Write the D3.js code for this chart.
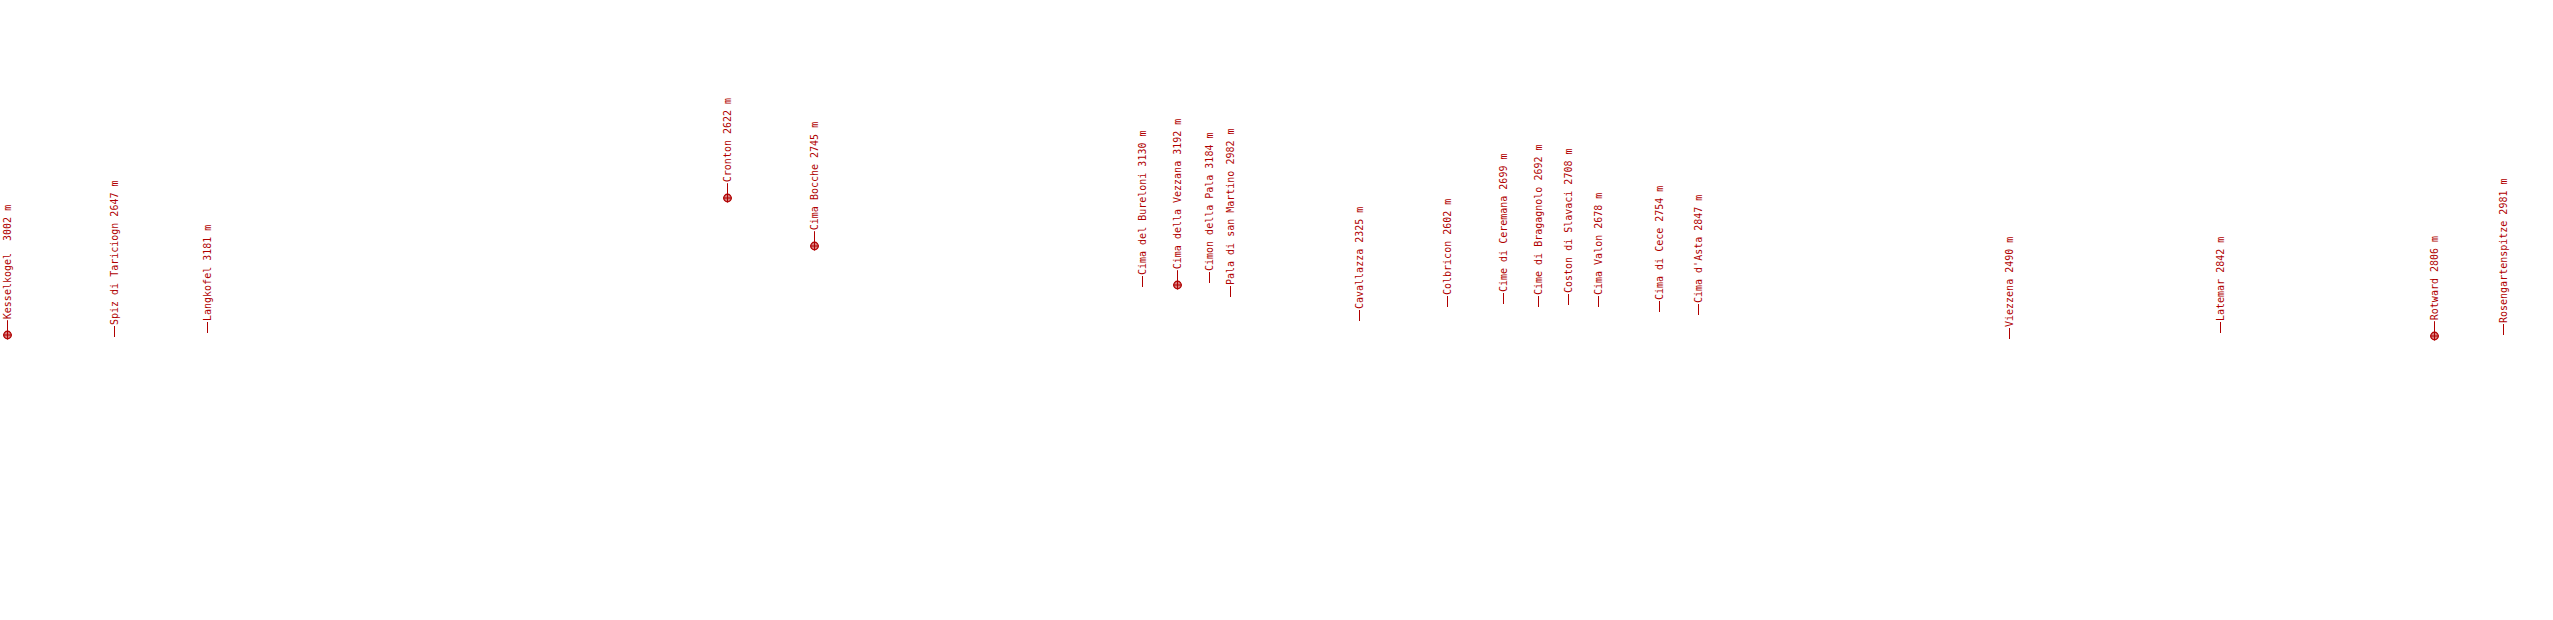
<!DOCTYPE html>
<html>
<head>
<meta charset="utf-8">
<script src="https://cdn.jsdelivr.net/npm/d3@7"></script>
<style>
  html, body { margin: 0; padding: 0; background: #fff; }
  svg { display: block; }
  text { text-rendering: optimizeSpeed; white-space: pre; }
</style>
</head>
<body>
<svg id="chart" width="2553" height="620"></svg>
<script>
// Peaks seen on the panorama: azimuth (deg) and apparent elevation angle (deg)
const names = ["Kesselkogel ", "Spiz di Tariciogn", "Langkofel", "Cronton", "Cima Bocche",
  "Cima del Bureloni", "Cima della Vezzana", "Cimon della Pala", "Pala di san Martino",
  "Cavallazza", "Colbricon", "Cime di Ceremana", "Cime di Bragagnolo", "Coston di Slavaci",
  "Cima Valon", "Cima di Cece", "Cima d'Asta", "Viezzena", "Latemar", "Rotward", "Rosengartenspitze"];
const elevations = [3002, 2647, 3181, 2622, 2745, 3130, 3192, 3184, 2982, 2325, 2602, 2699, 2692,
  2708, 2678, 2754, 2847, 2490, 2842, 2806, 2981];
const azimuths = [0.94, 16.12, 29.23, 102.56, 114.82, 161.08, 166.01, 170.52, 173.44, 191.67,
  204.08, 211.98, 216.83, 221.14, 225.38, 233.98, 239.39, 283.33, 313.10, 343.27, 352.92];
const angles = [-3.55, -3.85, -3.29, 15.75, 8.98, 3.20, 3.48, 3.85, 1.88, -1.51, 0.38, 0.85,
  0.38, 0.66, 0.47, -0.24, -0.71, -4.06, -3.21, -3.62, -3.47];
const marked = [true, false, false, true, true, false, true, false, false, false, false, false,
  false, false, false, false, false, false, false, true, false];

const W = 2553, H = 620;
const color = "#b00000";
const x = d3.scaleLinear().domain([0, 360]).range([0, W]);
const y = d3.scaleLinear().domain([-43.71, 43.71]).range([H, 0]);

const peaks = names.map((n, i) => ({ name: n, elev: elevations[i], az: azimuths[i], ang: angles[i], mark: marked[i] }));

const svg = d3.select("#chart");
const g = svg.selectAll("g.peak").data(peaks).join("g")
  .attr("class", "peak")
  .attr("transform", d => `translate(${Math.round(x(d.az)) + 0.5},${Math.round(y(d.ang))})`);

const m = g.filter(d => d.mark);
m.append("circle").attr("r", 3.8)
  .attr("fill", color).attr("fill-opacity", 0.5)
  .attr("stroke", color).attr("stroke-width", 1.2);
m.append("path").attr("d", "M-4.5,0H4.5M0,-4.5V4.5")
  .attr("stroke", color).attr("stroke-width", 1);

const r0 = d => d.mark ? 3.8 : 0;
g.append("line")
  .attr("x1", 0).attr("x2", 0)
  .attr("y1", d => -r0(d)).attr("y2", d => -r0(d) - 11)
  .attr("stroke", color).attr("stroke-width", 1);

g.append("text")
  .attr("transform", "rotate(-90)")
  .attr("x", d => r0(d) + 12)
  .attr("dy", "0.35em")
  .attr("fill", color)
  .style("font-family", "'DejaVu Sans Mono', monospace")
  .style("font-size", "10px")
  .text(d => d.name + " " + d.elev + " m");
</script>
</body>
</html>
